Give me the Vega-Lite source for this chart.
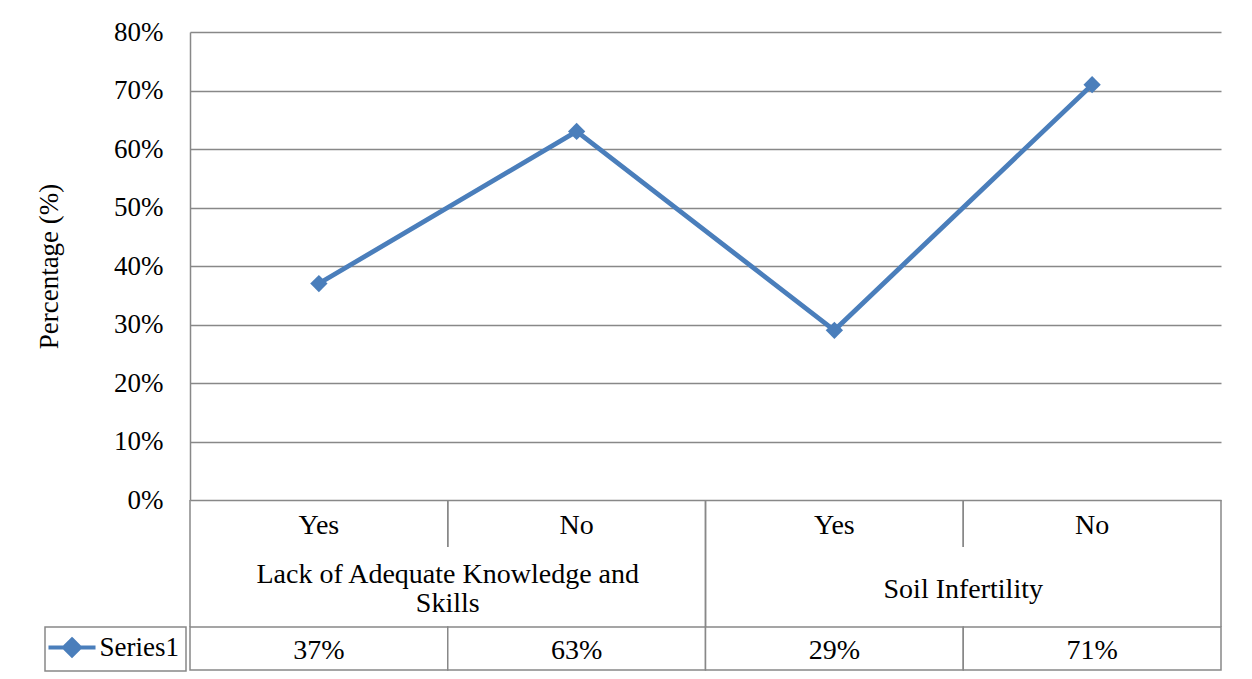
{
  "$schema": "https://vega.github.io/schema/vega-lite/v6.json",
  "padding": {"left": 35, "top": 18, "right": 5, "bottom": 5},
  "background": "white",
  "bounds": "flush",
  "spacing": 0,
  "datasets": {
    "survey": [
      {"id": 1, "group": "Lack of Adequate Knowledge and\nSkills", "answer": "Yes", "pct": 0.37, "series": "Series1"},
      {"id": 2, "group": "Lack of Adequate Knowledge and\nSkills", "answer": "No", "pct": 0.63, "series": "Series1"},
      {"id": 3, "group": "Soil Infertility", "answer": "Yes", "pct": 0.29, "series": "Series1"},
      {"id": 4, "group": "Soil Infertility", "answer": "No", "pct": 0.71, "series": "Series1"}
    ]
  },
  "resolve": {"legend": {"color": "independent"}, "scale": {"x": "independent"}},
  "vconcat": [
    {
      "width": 1031,
      "height": 468,
      "data": {"name": "survey"},
      "mark": {
        "type": "line",
        "strokeWidth": 4.8,
        "point": {"shape": "diamond", "size": 300, "filled": true}
      },
      "encoding": {
        "x": {"field": "id", "type": "ordinal", "axis": null},
        "y": {
          "field": "pct",
          "type": "quantitative",
          "scale": {"domain": [0, 0.8], "nice": false, "zero": true},
          "axis": {
            "title": "Percentage (%)",
            "titleFont": "Liberation Serif",
            "titleFontSize": 27,
            "titleFontWeight": "normal",
            "titleColor": "black",
            "titlePadding": 50,
            "values": [0, 0.1, 0.2, 0.3, 0.4, 0.5, 0.6, 0.7, 0.8],
            "format": ".0%",
            "labelFont": "Liberation Serif",
            "labelFontSize": 27,
            "labelColor": "black",
            "labelPadding": 27,
            "ticks": false,
            "tickSize": 0,
            "domain": true,
            "domainColor": "#888888",
            "domainWidth": 1.5,
            "grid": true,
            "gridColor": "#888888",
            "gridWidth": 1.5,
            "gridOpacity": 1
          }
        },
        "color": {
          "field": "series",
          "type": "nominal",
          "scale": {"range": ["#4A7EBB"]},
          "legend": null
        }
      }
    },
    {
      "width": 1031,
      "height": 47,
      "data": {"name": "survey"},
      "layer": [
        {
          "mark": {"type": "rule", "color": "#888888", "strokeWidth": 1.5},
          "encoding": {
            "x": {"field": "id", "type": "ordinal", "bandPosition": 0, "scale": {"type": "band", "paddingInner": 0, "paddingOuter": 0}, "axis": null}
          }
        },
        {
          "mark": {"type": "rule", "color": "#888888", "strokeWidth": 1.5},
          "encoding": {
            "x": {"field": "id", "type": "ordinal", "bandPosition": 1, "axis": null}
          }
        },
        {
          "mark": {"type": "text", "font": "Liberation Serif", "fontSize": 28, "color": "black", "dy": 2},
          "encoding": {
            "x": {"field": "id", "type": "ordinal", "axis": null},
            "text": {"field": "answer"}
          }
        }
      ]
    },
    {
      "width": 1031,
      "height": 80,
      "data": {"name": "survey"},
      "transform": [{"aggregate": [{"op": "count", "as": "n"}], "groupby": ["group"]}],
      "layer": [
        {
          "mark": {"type": "rule", "color": "#888888", "strokeWidth": 1.5},
          "encoding": {
            "x": {"field": "group", "type": "nominal", "bandPosition": 0, "scale": {"type": "band", "paddingInner": 0, "paddingOuter": 0}, "axis": null}
          }
        },
        {
          "mark": {"type": "rule", "color": "#888888", "strokeWidth": 1.5},
          "encoding": {
            "x": {"field": "group", "type": "nominal", "bandPosition": 1, "axis": null}
          }
        },
        {
          "transform": [{"filter": "indexof(datum.group, '\\n') < 0"}],
          "mark": {"type": "text", "font": "Liberation Serif", "fontSize": 28, "color": "black", "dy": 3},
          "encoding": {
            "x": {"field": "group", "type": "nominal", "axis": null},
            "text": {"field": "group"}
          }
        },
        {
          "transform": [{"filter": "indexof(datum.group, '\\n') >= 0"}],
          "mark": {"type": "text", "font": "Liberation Serif", "fontSize": 28, "color": "black", "lineBreak": "\n", "lineHeight": 29, "dy": -12},
          "encoding": {
            "x": {"field": "group", "type": "nominal", "axis": null},
            "text": {"field": "group"}
          }
        }
      ]
    },
    {
      "width": 1031,
      "height": 43,
      "data": {"name": "survey"},
      "layer": [
        {
          "mark": {"type": "rect", "fill": "white", "stroke": "#888888", "strokeWidth": 1.5},
          "encoding": {
            "x": {"field": "id", "type": "ordinal", "scale": {"type": "band", "paddingInner": 0, "paddingOuter": 0}, "axis": null}
          }
        },
        {
          "mark": {"type": "text", "font": "Liberation Serif", "fontSize": 28, "color": "black", "dy": 2},
          "encoding": {
            "x": {"field": "id", "type": "ordinal", "axis": null},
            "text": {"field": "pct", "type": "quantitative", "format": ".0%"}
          }
        },
        {
          "mark": {"type": "point", "opacity": 0, "size": 0, "filled": true},
          "encoding": {
            "color": {
              "field": "series",
              "type": "nominal",
              "scale": {"range": ["#4A7EBB"]},
              "legend": {
                "title": null,
                "orient": "none",
                "legendX": -145,
                "legendY": 0,
                "strokeColor": "#888888",
                "padding": 7,
                "cornerRadius": 0,
                "labelFont": "Liberation Serif",
                "labelFontSize": 27,
                "labelColor": "black",
                "labelOffset": 14,
                "symbolSize": 256,
                "symbolOffset": 6.5,
                "symbolType": "M-2.94,0L2.94,0M0,-1L1,0L0,1L-1,0Z",
                "symbolStrokeWidth": 4,
                "symbolFillColor": "#4A7EBB",
                "symbolStrokeColor": "#4A7EBB",
                "symbolOpacity": 1,
                "encode": {
                  "symbols": {
                    "update": {
                      "shape": {"value": "M-2.94,0L2.94,0M0,-1L1,0L0,1L-1,0Z"},
                      "fill": {"value": "#4A7EBB"},
                      "stroke": {"value": "#4A7EBB"},
                      "strokeWidth": {"value": 4},
                      "opacity": {"value": 1},
                      "fillOpacity": {"value": 1},
                      "strokeOpacity": {"value": 1},
                      "size": {"value": 256}
                    }
                  },
                  "legend": {"update": {"strokeWidth": {"value": 1.5}}}
                }
              }
            }
          }
        }
      ]
    }
  ],
  "config": {
    "view": {"stroke": null},
    "font": "Liberation Serif"
  }
}
